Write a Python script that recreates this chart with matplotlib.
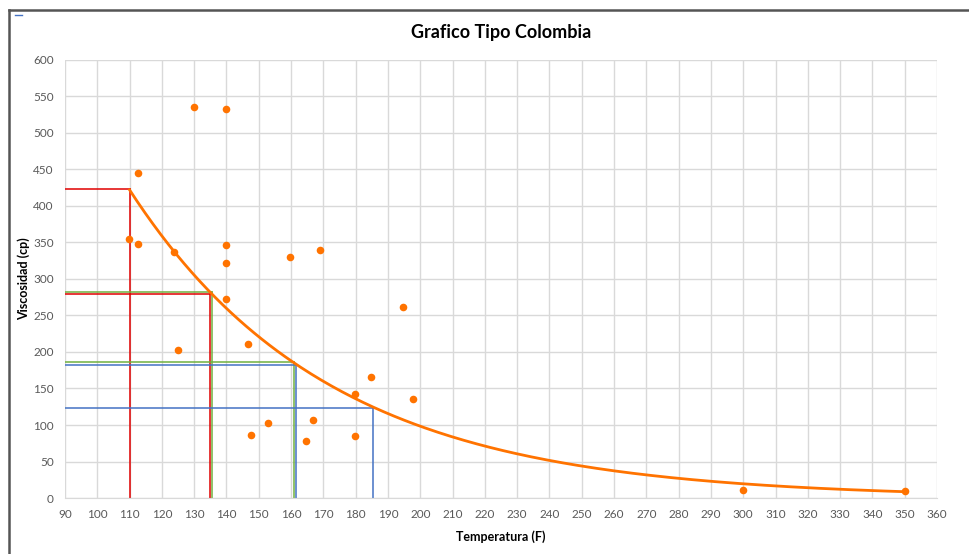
import numpy as np
import matplotlib.pyplot as plt
from matplotlib.lines import Line2D

plt.rcParams['font.family'] = ['Lato', 'DejaVu Sans']

# datos
temperatura = [130, 140, 112.6, 109.8, 112.6, 123.7, 140, 140, 140, 159.8, 168.9,
               124.9, 146.8, 194.8, 184.9, 179.8, 197.9, 147.6, 152.8, 166.8,
               164.7, 179.8, 300, 350]
viscosidad = [535.6, 532.5, 445, 354, 347.5, 337, 345.8, 321.5, 272.6, 330.7, 339.7,
              202.3, 211.5, 261.6, 165.3, 143, 135.2, 86.3, 102.7, 107.4,
              78.6, 84.5, 11.5, 10.1]

# lineas de lectura (temperatura, viscosidad, color)
lect_t = [110, 134.9, 135.4, 160.8, 161.5, 185.4]
lect_v = [422.9, 279, 281.5, 185.9, 182.7, 123.3]
lect_c = ['#e00000', '#e00000', '#70b040', '#70b040', '#4472c4', '#4472c4']

# ajuste exponencial (linea de tendencia)
b, ln_a = np.polyfit(temperatura, np.log(viscosidad), 1)
t_fit = np.linspace(110, 350, 300)
v_fit = np.exp(ln_a) * np.exp(b * t_fit)

fig = plt.figure(figsize=(9.7, 5.54), dpi=100)
ax = fig.add_axes([0.067, 0.101, 0.899, 0.791])

for t, v, c in zip(lect_t, lect_v, lect_c):
    ax.plot([90, t], [v, v], color=c, lw=1.1, zorder=2)
    ax.plot([t, t], [0, v], color=c, lw=1.1, zorder=2)

ax.plot(t_fit, v_fit, color='#ff7300', lw=2, zorder=3)
ax.scatter(temperatura, viscosidad, color='#ff7300', s=30, zorder=4, linewidths=0)

ax.set_xlim(90, 360)
ax.set_ylim(0, 600)
ax.set_xticks(np.arange(90, 361, 10))
ax.set_yticks(np.arange(0, 601, 50))
ax.grid(color='#d9d9d9', lw=1)
ax.set_axisbelow(True)
for s in ax.spines.values():
    s.set_visible(False)
ax.spines['bottom'].set_visible(True)
ax.spines['bottom'].set_color('#d9d9d9')
ax.tick_params(length=0, labelsize=8.5, colors='#595959', pad=8)

ax.set_title('Grafico Tipo Colombia', fontsize=13, fontweight='bold', pad=16)
ax.set_xlabel('Temperatura (F)', fontsize=9, fontweight='bold', labelpad=7)
ax.set_ylabel('Viscosidad (cp)', fontsize=9, fontweight='bold', labelpad=2)

# marco
fig.add_artist(Line2D([9/970, 9/970], [0, 1 - 10/554], color='#555555', lw=1.8))
fig.add_artist(Line2D([9/970, 1], [1 - 10/554, 1 - 10/554], color='#555555', lw=1.8))
fig.add_artist(Line2D([15/970, 22/970], [1 - 15/554, 1 - 15/554], color='#4472c4', lw=1))

plt.savefig('out.png', dpi=100)
